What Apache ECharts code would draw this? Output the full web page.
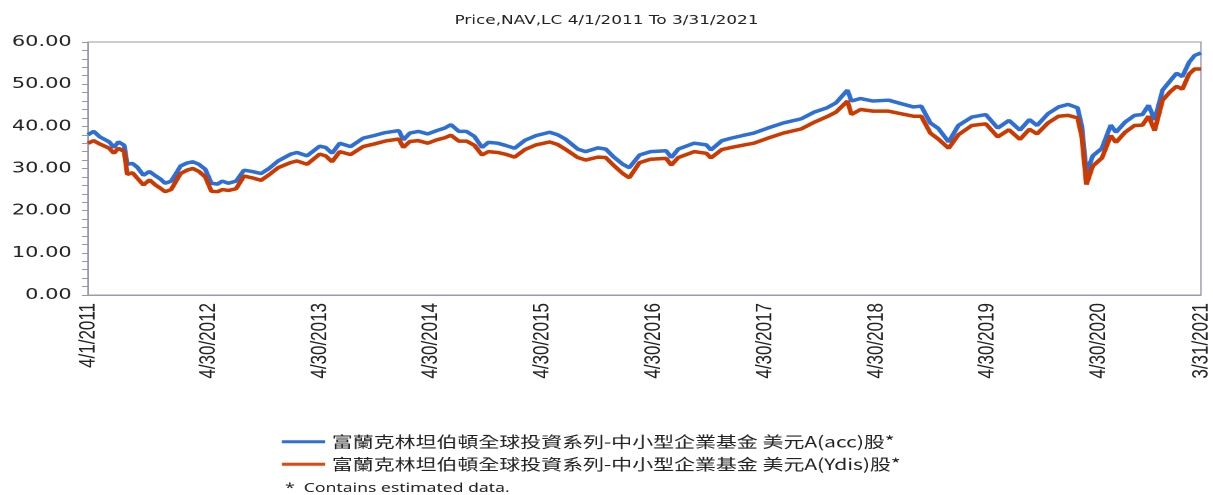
<!DOCTYPE html>
<html>
<head>
<meta charset="utf-8">
<script src="https://cdn.jsdelivr.net/npm/echarts@6/dist/echarts.min.js"></script>
<style>
html,body{margin:0;padding:0;background:#fff;overflow:hidden;}
#wrap{width:1213px;height:495px;overflow:hidden;}
#c{width:898px;height:495px;transform:scaleX(1.35078);transform-origin:0 0;}
</style>
</head>
<body>
<div id="wrap"><div id="c"></div></div>
<script>
const titleText = 'Price,NAV,LC 4/1/2011 To 3/31/2021';
const seriesNames = [
  '富蘭克林坦伯頓全球投資系列-中小型企業基金 美元A(acc)股*',
  '富蘭克林坦伯頓全球投資系列-中小型企業基金 美元A(Ydis)股*'
];
const footnote = '*  Contains estimated data.';

const dates = [
'2011-04-01','2011-04-20','2011-05-10','2011-06-10','2011-06-25','2011-07-10','2011-07-29','2011-08-08','2011-08-25','2011-09-10',
'2011-09-30','2011-10-20','2011-11-10','2011-11-25','2011-12-10','2011-12-30','2012-01-15','2012-01-30','2012-02-20','2012-03-10',
'2012-03-30','2012-04-20','2012-05-10','2012-05-30','2012-06-15','2012-07-05','2012-07-30','2012-08-25','2012-09-20','2012-10-20',
'2012-11-15','2012-12-15','2013-01-25','2013-02-15','2013-03-20','2013-04-30','2013-05-20','2013-06-10','2013-07-05','2013-08-10',
'2013-09-20','2013-10-25','2013-12-01','2014-01-15','2014-01-30','2014-02-20','2014-03-20','2014-04-20','2014-05-20','2014-06-15',
'2014-07-05','2014-07-31','2014-08-25','2014-09-20','2014-10-15','2014-11-05','2014-12-05','2014-12-30','2015-01-30','2015-03-05',
'2015-04-10','2015-05-25','2015-06-20','2015-07-15','2015-08-25','2015-09-20','2015-10-30','2015-11-25','2015-12-20','2016-01-20',
'2016-02-10','2016-03-15','2016-04-20','2016-06-10','2016-06-27','2016-07-20','2016-09-10','2016-10-20','2016-11-04','2016-12-10',
'2017-01-10','2017-02-15','2017-03-25','2017-05-10','2017-06-30','2017-08-28','2017-10-10','2017-11-20','2017-12-20','2018-01-26',
'2018-02-08','2018-03-10','2018-04-20','2018-06-10','2018-07-20','2018-08-30','2018-09-25','2018-10-25','2018-11-20','2018-12-24',
'2019-01-25','2019-03-10','2019-04-25','2019-06-03','2019-07-10','2019-08-15','2019-09-15','2019-10-10','2019-11-15','2019-12-20',
'2020-01-20','2020-02-20','2020-03-05','2020-03-20','2020-04-10','2020-05-10','2020-06-08','2020-06-25','2020-07-25','2020-08-25',
'2020-09-20','2020-10-10','2020-10-30','2020-11-25','2020-12-20','2021-01-10','2021-01-29','2021-02-20','2021-03-10','2021-03-31'
];
const accValues = [
38.0,38.8,37.5,36.3,35.0,36.3,35.5,31.0,31.2,30.3,
28.4,29.3,28.2,27.5,26.5,27.0,28.8,30.6,31.3,31.6,
31.0,29.8,26.5,26.3,27.0,26.5,27.0,29.6,29.3,28.8,
30.0,31.8,33.4,33.8,33.0,35.3,35.0,33.6,36.0,35.2,
37.2,37.8,38.5,39.0,36.8,38.4,38.8,38.2,39.0,39.6,
40.4,38.8,38.8,37.6,35.0,36.2,36.0,35.5,34.8,36.7,
37.8,38.6,38.0,37.0,34.6,34.0,34.9,34.6,32.8,31.0,
30.2,33.2,34.0,34.2,32.6,34.6,36.0,35.6,34.4,36.6,
37.2,37.8,38.4,39.6,40.8,41.8,43.4,44.4,45.6,48.6,
46.0,46.6,46.0,46.2,45.4,44.6,44.8,40.8,39.5,36.3,
40.2,42.2,42.8,39.6,41.4,39.1,41.6,40.2,43.0,44.6,
45.2,44.4,40.0,29.0,33.0,34.8,40.3,38.6,41.0,42.6,
42.8,45.0,41.5,48.6,50.8,52.6,51.8,55.2,56.8,57.4
];
const ydisValues = [
36.0,36.6,35.8,34.8,33.6,34.8,34.0,28.6,29.0,27.7,
26.1,27.3,26.0,25.3,24.5,25.0,27.0,28.8,29.6,30.0,
29.3,28.0,24.6,24.5,25.0,24.8,25.2,28.2,27.8,27.2,
28.5,30.2,31.4,31.8,31.0,33.4,33.0,31.6,34.0,33.3,
35.2,35.8,36.5,37.0,35.0,36.4,36.6,36.0,36.8,37.3,
37.9,36.5,36.5,35.5,33.2,34.0,33.8,33.4,32.7,34.5,
35.6,36.3,35.7,34.6,32.6,32.0,32.7,32.6,30.8,28.8,
27.8,31.4,32.2,32.4,30.8,32.6,34.0,33.6,32.5,34.5,
35.0,35.5,36.0,37.2,38.4,39.4,41.0,42.3,43.4,46.0,
42.8,44.0,43.6,43.6,43.0,42.4,42.4,38.4,37.0,34.8,
38.0,40.2,40.6,37.5,39.2,36.9,39.3,38.2,40.8,42.4,
42.6,42.0,37.5,26.2,30.6,32.5,37.8,36.2,38.6,40.2,
40.3,42.4,39.0,46.2,48.2,49.5,48.8,52.4,53.6,53.6
];
const tickDates = ['2011-04-01','2012-04-30','2013-04-30','2014-04-30','2015-04-30','2016-04-30','2017-04-30','2018-04-30','2019-04-30','2020-04-30','2021-03-31'];
const tickLabels = ['4/1/2011','4/30/2012','4/30/2013','4/30/2014','4/30/2015','4/30/2016','4/30/2017','4/30/2018','4/30/2019','4/30/2020','3/31/2021'];
const yTicks = [0,10,20,30,40,50,60];

function dayOf(s){const p=s.split('-').map(Number);return Math.round((Date.UTC(p[0],p[1]-1,p[2])-Date.UTC(2011,3,1))/86400000);}
const xs = dates.map(dayOf);
const tickDays = tickDates.map(dayOf);

const chart = echarts.init(document.getElementById('c'), null, {devicePixelRatio:2});
chart.setOption({
  animation:false,
  backgroundColor:'#fff',
  title:{text:titleText,left:'center',top:9,textStyle:{fontFamily:'DejaVu Sans',fontSize:12.5,fontWeight:'normal',color:'#222'}},
  grid:{left:65.1,right:8.9,top:42,bottom:200,show:true,borderColor:'#9a9ab0',borderWidth:1,backgroundColor:'transparent'},
  legend:{
    orient:'vertical',left:203.6,top:429,itemWidth:32,itemHeight:3,itemGap:7,icon:'rect',
    textStyle:{fontFamily:'Noto Sans CJK TC',fontSize:15.5,color:'#222'},
    data:seriesNames
  },
  graphic:[{type:'text',left:211,top:482,style:{text:footnote,fontFamily:'Noto Sans',fontSize:13,fill:'#222'}}],
  xAxis:{
    type:'value',min:0,max:tickDays[tickDays.length-1],
    axisLine:{show:true,lineStyle:{color:'#9a9ab0'}},
    axisTick:{show:false},
    splitLine:{show:false},
    axisLabel:{
      customValues:tickDays,rotate:90,margin:8,
      fontFamily:'Liberation Sans',fontSize:17,color:'#222',
      formatter:function(v){const i=tickDays.indexOf(Math.round(v));return i>=0?tickLabels[i]:'';}
    }
  },
  yAxis:{
    type:'value',min:yTicks[0],max:yTicks[yTicks.length-1],interval:10,
    axisLine:{show:true,lineStyle:{color:'#9a9ab0'}},
    axisTick:{show:true,length:4.5,lineStyle:{color:'#999'}},
    minorTick:{show:true,splitNumber:5,length:4.5,lineStyle:{color:'#999'}},
    splitLine:{show:false},
    axisLabel:{margin:12,fontFamily:'DejaVu Sans',fontSize:15.5,color:'#222',formatter:function(v){return v.toFixed(2);}}
  },
  series:[
    {name:seriesNames[0],type:'line',symbol:'none',data:xs.map((x,i)=>[x,accValues[i]]),lineStyle:{color:'#2e6fd6',width:3.5},itemStyle:{color:'#2e6fd6'}},
    {name:seriesNames[1],type:'line',symbol:'none',data:xs.map((x,i)=>[x,ydisValues[i]]),lineStyle:{color:'#cc3a00',width:3.5},itemStyle:{color:'#dd4a10'}}
  ]
});
</script>
</body>
</html>
